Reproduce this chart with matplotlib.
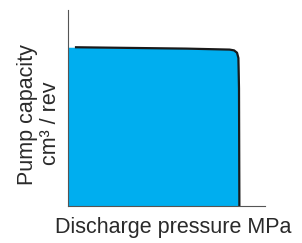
import matplotlib
matplotlib.use("Agg")
import matplotlib.pyplot as plt

# discharge pressure (arbitrary units, axis 0..100) vs pump capacity (0..100)
pressure = [0, 3.5, 60, 82, 84.3, 85.8, 86.5, 86.8, 87.0]
capacity = [81.0, 81.0, 80.3, 79.8, 79.4, 78.2, 75.5, 60, 0]

plt.rcParams["font.family"] = ["Liberation Sans", "DejaVu Sans"]

fig = plt.figure(figsize=(3.02, 2.43), dpi=100)
ax = fig.add_axes([68 / 302, 1 - 206 / 243, 197 / 302, 196 / 243])

ax.fill_between(pressure, capacity, 0, color="#00AEEF", lw=0, zorder=1)
ax.plot(pressure[1:], capacity[1:], color="#1a1a1a", lw=1.6,
        solid_capstyle="butt", solid_joinstyle="round", zorder=2)

ax.set_xlim(0, 100)
ax.set_ylim(0, 100)
ax.set_xticks([])
ax.set_yticks([])
for s in ("top", "right"):
    ax.spines[s].set_visible(False)
for s in ("left", "bottom"):
    ax.spines[s].set_color("#555555")
    ax.spines[s].set_linewidth(0.8)

fs = 15.5
fig.text(173 / 302, 1 - 227 / 243, "Discharge pressure MPa", fontsize=fs,
         color="#2a2a2a", ha="center", va="center")
fig.text(28 / 302, 1 - 115 / 243, "Pump capacity", fontsize=fs,
         color="#2a2a2a", ha="center", va="center", rotation=90)
fig.text(51 / 302, 1 - 123 / 243, "cm³ / rev", fontsize=fs,
         color="#2a2a2a", ha="center", va="center", rotation=90)

fig.savefig("out.png", dpi=100)
